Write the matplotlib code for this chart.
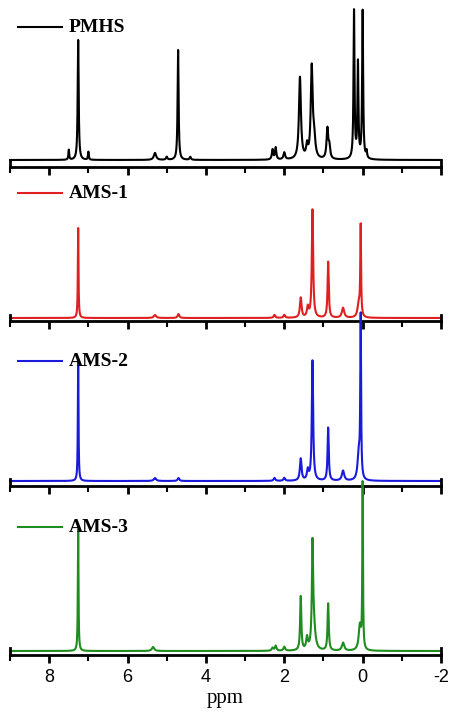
import numpy as np
import matplotlib.pyplot as plt
from matplotlib.ticker import MultipleLocator

plt.rcParams['axes.unicode_minus'] = False

names = ['PMHS', 'AMS-1', 'AMS-2', 'AMS-3']
colors = ['black', '#e02020', '#1a1adc', '#1e8c1e']
# peak shift (ppm), peak height (arbitrary), half width (ppm)
pmhs_pos = [7.5, 7.26, 7.0, 5.3, 5.0, 4.71, 4.4, 2.3, 2.22, 2.0, 1.6, 1.42, 1.3, 1.24, 0.9, 0.85, 0.22, 0.12, 0.0, -0.1]
pmhs_h = [10, 120, 8, 7, 3, 110, 3, 10, 12, 7, 82, 12, 90, 20, 30, 12, 148, 95, 148, 7]
pmhs_w = [.012, .015, .012, .035, .02, .015, .02, .02, .02, .025, .03, .025, .028, .035, .025, .025, .015, .015, .015, .015]
ams1_pos = [7.26, 5.3, 4.7, 2.25, 2.0, 1.58, 1.4, 1.28, 0.88, 0.5, 0.1, 0.05]
ams1_h = [90, 3, 4, 3, 3, 20, 10, 108, 56, 10, 14, 90]
ams1_w = [.01, .035, .025, .025, .025, .025, .025, .02, .018, .035, .035, .012]
ams2_pos = [7.26, 5.3, 4.7, 2.25, 2.0, 1.58, 1.4, 1.28, 0.88, 0.5, 0.1, 0.05]
ams2_h = [122, 3, 3, 3, 3, 22, 10, 120, 53, 10, 26, 160]
ams2_w = [.01, .035, .025, .025, .025, .025, .025, .02, .018, .035, .035, .012]
ams3_pos = [7.26, 5.35, 2.3, 2.22, 2.0, 1.58, 1.42, 1.28, 1.25, 0.88, 0.5, 0.07, 0.0]
ams3_h = [122, 4, 3, 5, 4, 54, 12, 95, 25, 47, 8, 25, 165]
ams3_w = [.01, .035, .025, .025, .025, .018, .025, .018, .045, .018, .035, .035, .01]
peaks = [(pmhs_pos, pmhs_h, pmhs_w), (ams1_pos, ams1_h, ams1_w), (ams2_pos, ams2_h, ams2_w), (ams3_pos, ams3_h, ams3_w)]

spine_px = [167, 321, 486, 655]
base_px = [160, 318, 481, 651]
top_px = [0, 167, 321, 486]
label_px = [27, 193, 361, 527]

W, H = 456, 719
fig = plt.figure(figsize=(W / 100, H / 100), dpi=100)
x = np.linspace(9, -2, 12000)
for i, (pos, h, w) in enumerate(peaks):
    ax = fig.add_axes([10 / W, 1 - spine_px[i] / H, 431 / W, (spine_px[i] - top_px[i]) / H])
    y = np.zeros_like(x)
    for p, a, g in zip(pos, h, w):
        y += a * g**2 / ((x - p)**2 + g**2)
    ax.plot(x, y, color=colors[i], lw=1.5, clip_on=False)
    ax.set_xlim(9, -2)
    ax.set_ylim(-(spine_px[i] - base_px[i]), base_px[i] - top_px[i])
    ax.patch.set_alpha(0)
    for s in ['top', 'left', 'right']:
        ax.spines[s].set_visible(False)
    ax.spines['bottom'].set_linewidth(2)
    ax.set_yticks([])
    ax.xaxis.set_major_locator(MultipleLocator(2))
    ax.xaxis.set_minor_locator(MultipleLocator(1))
    ax.tick_params(axis='x', which='major', direction='out', length=6, width=2)
    ax.tick_params(axis='x', which='minor', direction='out', length=4, width=1.5)
    ax.axvline(-2, ymin=0, ymax=0.04, color='black', lw=2, clip_on=False)
    ax.axvline(9, ymin=0, ymax=0.04, color='black', lw=2, clip_on=False)
    if i < 3:
        ax.set_xticklabels([])
    else:
        ax.tick_params(axis='x', labelsize=13, pad=4)
        for t in ax.get_xticklabels():
            t.set_fontfamily('Liberation Sans')
        ax.set_xlabel('ppm', fontsize=15, family='Liberation Serif', labelpad=2)
    ly = 1 - label_px[i] / H
    fig.add_artist(plt.Line2D([18 / W, 62 / W], [ly, ly], color=colors[i], lw=1.5))
    fig.text(69 / W, ly, names[i], fontsize=14, fontweight='bold', family='Liberation Serif', va='center')

fig.savefig('out.png', dpi=100)
